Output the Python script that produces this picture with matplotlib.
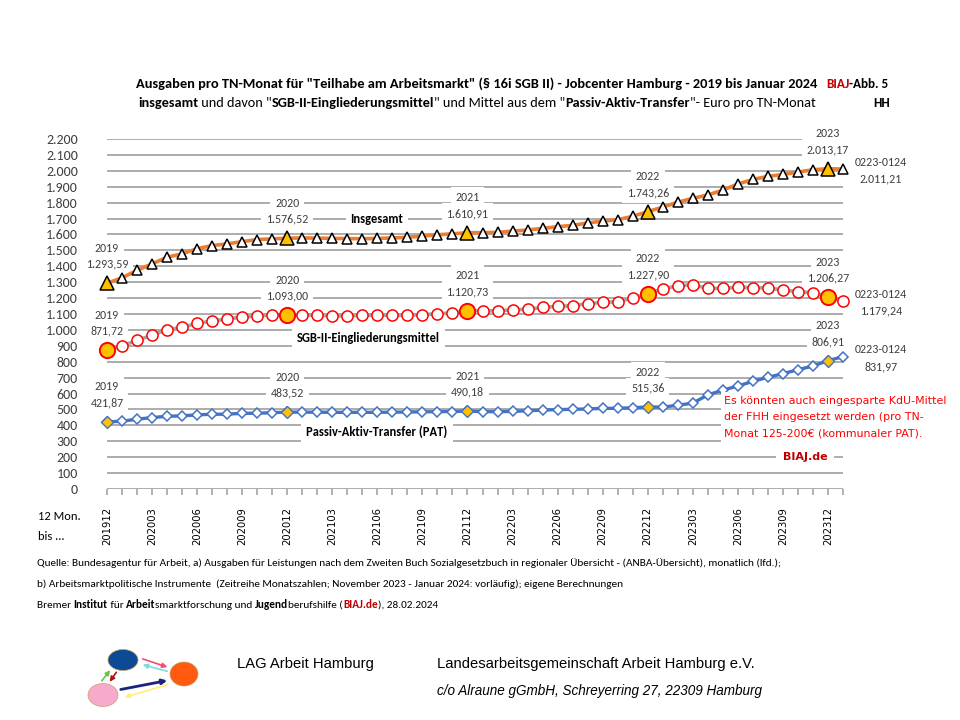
import matplotlib
matplotlib.use("Agg")
import matplotlib.pyplot as plt
from matplotlib import font_manager as fm
from matplotlib.patches import Ellipse, FancyArrowPatch, Rectangle

# 12 Monate bis ... (Dez 2019 bis Jan 2024)
months = ['201912'] + [f'{y}{m:02d}' for y in (2020, 2021, 2022, 2023) for m in range(1, 13)] + ['202401']

# Euro pro TN-Monat
insgesamt = [1293.59, 1327, 1375, 1415, 1457, 1478, 1511, 1530, 1541, 1555, 1568, 1572, 1576.52,
             1578, 1577, 1575, 1574, 1573, 1575, 1578, 1582, 1590, 1598, 1604, 1610.91,
             1611, 1613, 1621, 1628, 1638, 1649, 1657, 1672, 1684, 1693, 1714, 1743.26,
             1772, 1803, 1827, 1848, 1879, 1917, 1946, 1965, 1977, 1992, 2007, 2013.17, 2011.21]
sgb2 = [871.72, 899, 935, 966, 1002, 1016, 1041, 1056, 1069, 1081, 1088, 1094, 1093.00,
        1094, 1092, 1088, 1088, 1092, 1092, 1092, 1092, 1096, 1102, 1106, 1120.73,
        1121, 1119, 1127, 1129, 1142, 1148, 1152, 1165, 1173, 1177, 1200, 1227.90,
        1257, 1278, 1284, 1261, 1261, 1268, 1266, 1264, 1251, 1240, 1234, 1206.27, 1179.24]
pat = [421.87, 426, 439, 449, 457, 460, 466, 470, 470, 476, 476, 480, 483.52,
       483, 483, 482, 482, 482, 482, 483, 484, 485, 486, 487, 490.18,
       486, 486, 488, 492, 496, 499, 501, 503, 507, 507, 511, 515.36,
       515, 526, 540, 591, 622, 647, 677, 702, 725, 750, 773, 806.91, 831.97]

year_idx = [0, 12, 24, 36, 48]
year_lab = ['2019', '2020', '2021', '2022', '2023']
last_lab = '0223-0124'

hint = ['Es könnten auch eingesparte KdU-Mittel', 'der FHH eingesetzt werden (pro TN-',
        'Monat 125-200€ (kommunaler PAT).']


def pick(cands):
    for c in cands:
        try:
            fm.findfont(c, fallback_to_default=False)
            return c
        except Exception:
            pass
    return 'DejaVu Sans'


CAL = pick(['Carlito', 'Lato', 'Open Sans'])
NARROW = pick(['Liberation Sans Narrow', 'Liberation Sans'])
VER = 'DejaVu Sans'

W, H = 960, 720
fig = plt.figure(figsize=(9.6, 7.2), dpi=100)
r = fig.canvas.get_renderer()


def fx(px):
    return px / W


def fy(py):
    return 1 - py / H


def de(v):
    s = f'{v:,.2f}'
    return s.replace(',', 'X').replace('.', ',').replace('X', '.')


def props(family, sz, bold=False, style='normal'):
    return fm.FontProperties(family=family, size=sz, weight='bold' if bold else 'normal', style=style)


def tw(s, prop):
    # Breite inkl. Leerzeichen
    a = r.get_text_width_height_descent('|' + s + '|', prop, ismath=False)[0]
    b = r.get_text_width_height_descent('||', prop, ismath=False)[0]
    return a - b


def fit_size(parts, size, family, target, style='normal'):
    tot = sum(tw(s, props(family, size, b, style)) for s, b, c in parts)
    return size * target / tot


def runs(x, y, parts, size, family, ha='left', style='normal', **kw):
    # parts: (text, bold, colour)
    widths = [tw(s, props(family, size, b, style)) for s, b, c in parts]
    cur = x - sum(widths) / 2 if ha == 'center' else x
    for (s, b, c), w in zip(parts, widths):
        fig.text(fx(cur), fy(y), s, fontproperties=props(family, size, b, style), color=c,
                 va='center', ha='left', **kw)
        cur += w


# ---- Titel
t1 = [('Ausgaben pro TN-Monat für "Teilhabe am Arbeitsmarkt" (§ 16i SGB II) - Jobcenter Hamburg - 2019 bis Januar 2024', True, 'black')]
t2 = [('insgesamt', True, 'black'), (' und davon "', False, 'black'),
      ('SGB-II-Eingliederungsmittel', True, 'black'), ('" und Mittel aus dem "', False, 'black'),
      ('Passiv-Aktiv-Transfer', True, 'black'), ('"- Euro pro TN-Monat', False, 'black')]
runs(477, 84, t1, fit_size(t1, 9.5, CAL, 682), CAL, ha='center')
runs(477, 103, t2, fit_size(t2, 9.5, CAL, 682), CAL, ha='center')
runs(826, 84, [('BIAJ', True, '#C00000'), ('-Abb. 5', True, 'black')], 9.5, CAL)
fig.text(fx(890), fy(103), 'HH', family=CAL, fontsize=9.5, fontweight='bold', ha='right', va='center')

# ---- Diagramm
ax = fig.add_axes([fx(107), fy(489), (843 - 107) / W, (489 - 139) / H])
x = list(range(len(months)))
ax.set_xlim(0, len(months) - 1)
ax.set_ylim(0, 2200)
for s in ax.spines.values():
    s.set_visible(False)
ax.set_yticks(range(0, 2201, 100))
ax.set_yticklabels([f'{v:,}'.replace(',', '.') for v in range(0, 2201, 100)], family=CAL, fontsize=10)
ax.tick_params(axis='y', length=0, pad=21, colors='#404040')
ax.grid(axis='y', color='#A6A6A6', lw=1.3)
ax.set_axisbelow(True)
ax.set_xticks(x[::3])
ax.set_xticklabels(months[::3], rotation=90, family=VER, fontsize=7.2, va='top')
ax.set_xticks(x, minor=True)
ax.tick_params(axis='x', which='both', direction='out', length=4, color='#A6A6A6', width=1.2, pad=9)

ORANGE, GOLD, GRAY, BLUE, RED = '#ED7D31', '#FFC000', '#A5A5A5', '#4472C4', '#FF0000'
yx = [x[i] for i in year_idx]

ax.plot(x, insgesamt, color=ORANGE, lw=2.6, marker='^', ms=7.5, mfc='white', mec='black', mew=1.1,
        clip_on=False, zorder=3)
ax.plot(yx, [insgesamt[i] for i in year_idx], ls='none', marker='^', ms=9.5,
        mfc=GOLD, mec='black', mew=1.1, clip_on=False, zorder=4)

ax.plot(x, sgb2, color=GRAY, lw=2.6, marker='o', ms=8, mfc='white', mec=RED, mew=1.1,
        clip_on=False, zorder=3)
ax.plot(yx, [sgb2[i] for i in year_idx], ls='none', marker='o', ms=11,
        mfc=GOLD, mec=RED, mew=1.4, clip_on=False, zorder=4)

ax.plot(x, pat, color=BLUE, lw=2.4, marker='D', ms=5.3, mfc='white', mec=BLUE, mew=1.1,
        clip_on=False, zorder=3)
ax.plot(yx, [pat[i] for i in year_idx], ls='none', marker='D', ms=5.8,
        mfc=GOLD, mec=BLUE, mew=1.0, clip_on=False, zorder=4)

box = dict(boxstyle='square,pad=0.4', fc='white', ec='none')
lab = dict(textcoords='offset pixels', ha='center', va='center', family=CAL, fontsize=8.6, color='#404040')
for series in (insgesamt, sgb2, pat):
    for i, yl in zip(year_idx, year_lab):
        ax.annotate(yl, (x[i], series[i]), xytext=(0, 35), bbox=box, zorder=2, **lab)
        ax.annotate(de(series[i]), (x[i], series[i]), xytext=(0, 19), bbox=box, zorder=2, **lab)
    ax.annotate(last_lab, (x[-1], series[-1]), xytext=(38, 7), annotation_clip=False, **lab)
    ax.annotate(de(series[-1]), (x[-1], series[-1]), xytext=(38, -10), annotation_clip=False, **lab)

lbl = dict(family=CAL, fontsize=9, fontweight='bold', color='black', ha='center', va='center',
           bbox=dict(boxstyle='square,pad=0.4', fc='white', ec='none'))
fig.text(fx(377), fy(219), 'Insgesamt', **lbl)
fig.text(fx(368), fy(338), 'SGB-II-Eingliederungsmittel', **lbl)
fig.text(fx(377), fy(432), 'Passiv-Aktiv-Transfer (PAT)', **lbl)

# Hinweis (rot)
fig.patches.append(Rectangle((fx(721), fy(446)), (850 - 721) / W, (446 - 392) / H,
                             transform=fig.transFigure, fc='white', ec='none', zorder=5))
hs = fit_size([(hint[0], False, RED)], 8, VER, 221)
for k, line in enumerate(hint):
    fig.text(fx(724), fy(401 + 16 * k), line, family=VER, fontsize=hs, color=RED, va='center', zorder=6)
fig.text(fx(805), fy(457), 'BIAJ.de', family=VER, fontsize=8, fontweight='bold', color='#C00000',
         ha='center', va='center', bbox=dict(boxstyle='square,pad=0.6', fc='white', ec='none'))

fig.text(fx(38), fy(517), '12 Mon.', family=CAL, fontsize=9, va='center')
fig.text(fx(38), fy(537), 'bis ...', family=CAL, fontsize=9, va='center')

# ---- Quelle
q1 = [('Quelle: Bundesagentur für Arbeit, a) Ausgaben für Leistungen nach dem Zweiten Buch Sozialgesetzbuch '
       'in regionaler Übersicht - (ANBA-Übersicht), monatlich (lfd.);', False, 'black')]
q2 = [('b) Arbeitsmarktpolitische Instrumente  (Zeitreihe Monatszahlen; November 2023 - Januar 2024: '
       'vorläufig); eigene Berechnungen', False, 'black')]
q3 = [('Bremer ', False, 'black'), ('Institut', True, 'black'), (' für ', False, 'black'),
      ('Arbeit', True, 'black'), ('smarktforschung und ', False, 'black'), ('Jugend', True, 'black'),
      ('berufshilfe (', False, 'black'), ('BIAJ.de', True, '#C00000'), ('), 28.02.2024', False, 'black')]
fs = fit_size(q1, 8, CAL, 745)
runs(37, 563, q1, fs, CAL)
runs(37, 584, q2, fs, CAL)
runs(37, 605, q3, fs, CAL)

# ---- Fusszeile
f1 = [('LAG Arbeit Hamburg', False, 'black')]
f2 = [('Landesarbeitsgemeinschaft Arbeit Hamburg e.V.', False, 'black')]
f3 = [('c/o Alraune gGmbH, Schreyerring 27, 22309 Hamburg', False, 'black')]
runs(237, 664, f1, fit_size(f1, 10, NARROW, 137), NARROW)
runs(437, 664, f2, fit_size(f2, 10, NARROW, 318), NARROW)
runs(437, 691, f3, fit_size(f3, 10, NARROW, 326, 'italic'), NARROW, style='italic')

# Logo
lg = fig.add_axes([fx(60), fy(715), 150 / W, 90 / H])
lg.set_xlim(60, 210)
lg.set_ylim(715, 625)
lg.axis('off')
for (cx, cy, w, h, c) in [(123, 660, 30, 21, '#0D4A94'), (184, 674, 28, 24, '#FF5A10'),
                          (103, 695, 30, 23, '#F7AACB')]:
    lg.add_patch(Ellipse((cx, cy), w, h, fc=c, ec='#C8A060', lw=0.5))
for (a, b, c, lw) in [((140, 658), (170, 668), '#F0506E', 1.2), ((170, 672), (140, 664), '#80D8E0', 1.2),
                      ((118, 690), (170, 680), '#1A237E', 2.0), ((170, 684), (122, 698), '#FFF07A', 1.2),
                      ((100, 683), (112, 668), '#6CC24A', 1.2), ((118, 670), (108, 684), '#B01010', 1.2)]:
    lg.add_patch(FancyArrowPatch(a, b, arrowstyle='-|>', mutation_scale=7, color=c, lw=lw))

fig.savefig('out.png', dpi=100)
